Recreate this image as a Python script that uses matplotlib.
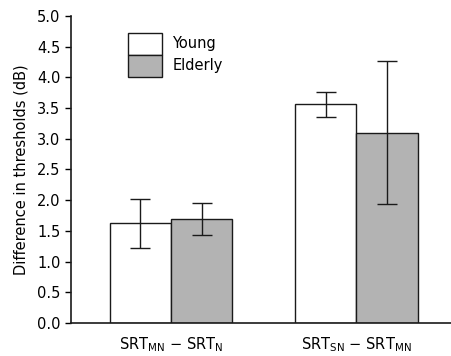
import matplotlib
matplotlib.use("Agg")
import matplotlib.pyplot as plt
from matplotlib.patches import Patch
import numpy as np

# values
conditions = [r"SRT$_{\mathrm{MN}}$ $-$ SRT$_{\mathrm{N}}$",
              r"SRT$_{\mathrm{SN}}$ $-$ SRT$_{\mathrm{MN}}$"]
young = [1.62, 3.56]
young_err = [0.40, 0.20]
elderly = [1.69, 3.10]
elderly_err = [0.26, 1.17]

plt.rcParams['font.family'] = ['DejaVu Sans']

fig = plt.figure(figsize=(4.51, 3.56), dpi=100)
ax = fig.add_axes([0.157, 0.093, 0.843, 0.862])

x = np.arange(len(conditions))
w = 0.33
edge = '#1a1a1a'
ax.bar(x - w / 2, young, w, color='white', edgecolor=edge, linewidth=1.0, zorder=2)
ax.bar(x + w / 2, elderly, w, color='#b3b3b3', edgecolor=edge, linewidth=1.0, zorder=2)
ax.errorbar(x - w / 2, young, yerr=young_err, fmt='none', ecolor=edge,
            elinewidth=1.0, capsize=7.5, capthick=1.0, zorder=3)
ax.errorbar(x + w / 2, elderly, yerr=elderly_err, fmt='none', ecolor=edge,
            elinewidth=1.0, capsize=7.5, capthick=1.0, zorder=3)

ax.set_xlim(-0.54, 1.51)
ax.set_ylim(0, 5.0)
ax.set_yticks(np.arange(0, 5.01, 0.5))
ax.set_yticklabels([f"{v:.1f}" for v in np.arange(0, 5.01, 0.5)])
ax.set_xticks(x)
ax.set_xticklabels(conditions, fontsize=10.5)
ax.tick_params(axis='x', length=0, pad=9)
ax.tick_params(axis='y', direction='out', length=4.5, width=1.0, labelsize=10.5, pad=3)
ax.set_ylabel("Difference in thresholds (dB)", fontsize=10.5, labelpad=6)

for s in ['top', 'right']:
    ax.spines[s].set_visible(False)
for s in ['left', 'bottom']:
    ax.spines[s].set_linewidth(1.2)
    ax.spines[s].set_color(edge)

handles = [Patch(facecolor='white', edgecolor=edge, linewidth=1.0),
           Patch(facecolor='#b3b3b3', edgecolor=edge, linewidth=1.0)]
leg = ax.legend(handles, ['Young', 'Elderly'], loc='upper left',
                bbox_to_anchor=(0.135, 0.965), frameon=False, fontsize=10.5,
                handlelength=2.35, handleheight=1.95, handletextpad=0.7,
                labelspacing=0.0, borderaxespad=0)

fig.savefig("out.png", dpi=100)
